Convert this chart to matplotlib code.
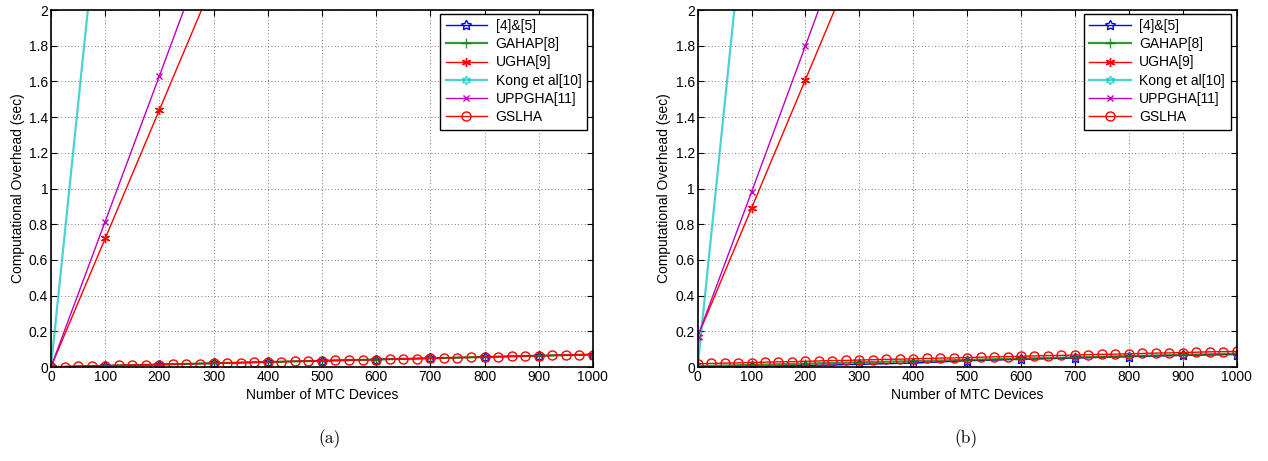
import matplotlib
matplotlib.use("Agg")
import matplotlib.pyplot as plt
import numpy as np

plt.rcParams["font.family"] = ["Liberation Sans", "DejaVu Sans"]

# device counts for the marked series
devices = [0, 100, 200, 300, 400, 500, 600, 700, 800, 900, 1000]
# GSLHA is marked every 25 devices
devices_fine = list(range(0, 1001, 25))

# panel (a)
a_ref45 = [0, 0.007, 0.014, 0.021, 0.028, 0.035, 0.042, 0.049, 0.056, 0.063, 0.070]
a_gahap = [0, 0.007, 0.014, 0.021, 0.028, 0.035, 0.042, 0.049, 0.056, 0.063, 0.070]
a_ugha = [0, 0.72, 1.44, 2.16, 2.88, 3.60, 4.32, 5.04, 5.76, 6.48, 7.20]
a_kong = [0, 2.94, 5.88, 8.82, 11.76, 14.70, 17.64, 20.58, 23.52, 26.46, 29.40]
a_uppgha = [0, 0.815, 1.63, 2.45, 3.26, 4.08, 4.89, 5.71, 6.52, 7.34, 8.15]
a_gslha = [0.000, 0.002, 0.004, 0.005, 0.007, 0.009, 0.011, 0.012, 0.014, 0.016,
           0.018, 0.019, 0.021, 0.023, 0.025, 0.026, 0.028, 0.030, 0.032, 0.033,
           0.035, 0.037, 0.039, 0.040, 0.042, 0.044, 0.046, 0.047, 0.049, 0.051,
           0.053, 0.054, 0.056, 0.058, 0.060, 0.061, 0.063, 0.065, 0.067, 0.068,
           0.070]

# panel (b)
b_ref45 = [0, 0.004, 0.008, 0.015, 0.022, 0.035, 0.043, 0.050, 0.058, 0.065, 0.070]
b_gahap = [0.005, 0.012, 0.019, 0.026, 0.033, 0.040, 0.047, 0.054, 0.061, 0.068, 0.075]
b_ugha = [0.17, 0.89, 1.61, 2.33, 3.05, 3.77, 4.49, 5.21, 5.93, 6.65, 7.37]
b_kong = [0, 2.94, 5.88, 8.82, 11.76, 14.70, 17.64, 20.58, 23.52, 26.46, 29.40]
b_uppgha = [0.17, 0.98, 1.80, 2.62, 3.44, 4.26, 5.08, 5.90, 6.72, 7.54, 8.36]
b_gslha = [0.018, 0.020, 0.022, 0.023, 0.025, 0.027, 0.029, 0.030, 0.032, 0.034,
           0.036, 0.037, 0.039, 0.041, 0.043, 0.044, 0.046, 0.048, 0.050, 0.051,
           0.053, 0.055, 0.057, 0.058, 0.060, 0.062, 0.064, 0.065, 0.067, 0.069,
           0.071, 0.072, 0.074, 0.076, 0.078, 0.079, 0.081, 0.083, 0.085, 0.086,
           0.088]

x_ticks = [0, 100, 200, 300, 400, 500, 600, 700, 800, 900, 1000]
y_ticks = [0, 0.2, 0.4, 0.6, 0.8, 1, 1.2, 1.4, 1.6, 1.8, 2]
y_tick_labels = ["0", "0.2", "0.4", "0.6", "0.8", "1", "1.2", "1.4", "1.6", "1.8", "2"]


def draw_panel(ax, ref45, gahap, ugha, kong, uppgha, gslha):
    ms = 6.5
    ax.plot(devices, ref45, color="blue", marker=(5, 1, 0), mfc="none",
            ms=7.5, lw=1.0, label="[4]&[5]")
    ax.plot(devices, gahap, color=(0, 0.5, 0), marker="+", ms=ms,
            lw=1.6, alpha=0.8, label="GAHAP[8]")
    ax.plot(devices, ugha, color="red", marker=(6, 2, 0), ms=ms,
            lw=1.0, label="UGHA[9]")
    ax.plot(devices, kong, color=(0, 0.75, 0.75), marker=(6, 1, 0), mfc="none",
            ms=ms, lw=1.6, alpha=0.7, label="Kong et al[10]")
    ax.plot(devices, uppgha, color=(0.75, 0, 0.75), marker="x", ms=5,
            lw=1.0, label="UPPGHA[11]")
    ax.plot(devices_fine, gslha, color="red", marker="o", mfc="none",
            ms=ms, lw=1.0, label="GSLHA")

    ax.set_xlim(0, 1000)
    ax.set_ylim(0, 2)
    ax.set_xticks(x_ticks)
    ax.set_yticks(y_ticks)
    ax.set_yticklabels(y_tick_labels)
    ax.tick_params(direction="in", top=True, right=True, length=4,
                   labelsize=10, pad=2)
    ax.grid(True, color="0.3", linestyle=(0, (1, 3)), linewidth=0.6)
    for spine in ax.spines.values():
        spine.set_linewidth(1.2)
    ax.set_xlabel("Number of MTC Devices", fontsize=10, labelpad=3)
    ax.set_ylabel("Computational Overhead (sec)", fontsize=10, labelpad=3)
    leg = ax.legend(loc="upper right", bbox_to_anchor=(0.989, 0.99),
                    borderaxespad=0, fontsize=10, fancybox=False,
                    edgecolor="black", framealpha=1, handlelength=3.0,
                    handletextpad=0.6, labelspacing=0.3, borderpad=0.4)
    leg.get_frame().set_linewidth(1.0)


fig = plt.figure(figsize=(12.68, 4.61), dpi=100)
ax_a = fig.add_axes([0.0402, 0.2039, 0.4274, 0.7744])
ax_b = fig.add_axes([0.5502, 0.2039, 0.4250, 0.7744])

draw_panel(ax_a, a_ref45, a_gahap, a_ugha, a_kong, a_uppgha, a_gslha)
draw_panel(ax_b, b_ref45, b_gahap, b_ugha, b_kong, b_uppgha, b_gslha)

fig.text(0.26, 0.048, "(a)", ha="center", va="center", fontsize=12.5,
         family=["cmr10", "DejaVu Serif"])
fig.text(0.762, 0.048, "(b)", ha="center", va="center", fontsize=12.5,
         family=["cmr10", "DejaVu Serif"])

fig.savefig("out.png", dpi=100)
plt.close(fig)
